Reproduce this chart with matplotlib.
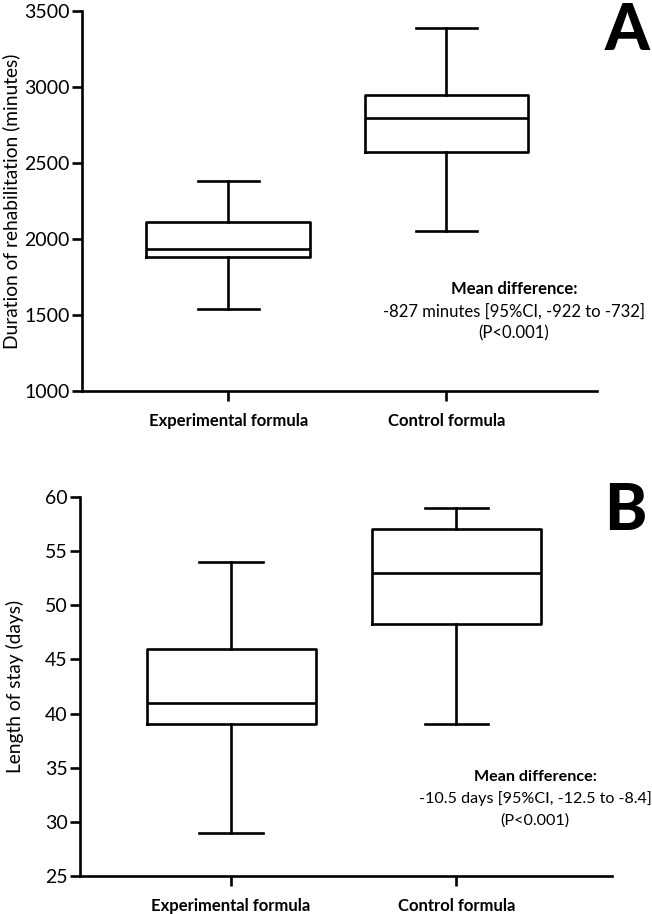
import matplotlib
matplotlib.use("Agg")
import matplotlib.pyplot as plt

plt.rcParams['font.family'] = ['Lato', 'DejaVu Sans']

categories = ["Experimental formula", "Control formula"]

# Panel A: duration of rehabilitation (minutes): whislo, q1, med, q3, whishi
dur_whislo = [1540, 2055]
dur_q1 = [1880, 2575]
dur_med = [1935, 2795]
dur_q3 = [2115, 2950]
dur_whishi = [2380, 3385]
dur_ticks = [1000, 1500, 2000, 2500, 3000, 3500]
dur_note = ["Mean difference:", "-827 minutes [95%CI, -922 to -732]", "(P<0.001)"]

# Panel B: length of stay (days)
los_whislo = [29, 39]
los_q1 = [39, 48.3]
los_med = [41, 53]
los_q3 = [46, 57]
los_whishi = [54, 59]
los_ticks = [25, 30, 35, 40, 45, 50, 55, 60]
los_note = ["Mean difference:", "-10.5 days [95%CI, -12.5 to -8.4]", "(P<0.001)"]

W, H = 652, 914
fig = plt.figure(figsize=(W / 100, H / 100), dpi=100)

def px_axes(left, right, top, bottom):
    return fig.add_axes([left / W, 1 - bottom / H, (right - left) / W, (bottom - top) / H])

lw = 1.9

def draw(ax, wl, q1, med, q3, wh, ticks, ylabel, note, note_xy, note_fs, letter, letter_xy):
    stats = []
    for i in range(len(categories)):
        stats.append(dict(whislo=wl[i], q1=q1[i], med=med[i], q3=q3[i], whishi=wh[i], fliers=[]))
    ax.bxp(stats, positions=[0, 1], widths=0.75, showfliers=False, patch_artist=False,
           boxprops=dict(color='black', linewidth=lw),
           medianprops=dict(color='black', linewidth=lw),
           whiskerprops=dict(color='black', linewidth=lw),
           capprops=dict(color='black', linewidth=lw),
           capwidths=0.28)
    ax.set_xlim(-0.67, 1.69)
    ax.set_ylim(ticks[0], ticks[-1])
    ax.set_yticks(ticks, labels=[str(t) for t in ticks], fontsize=14)
    ax.set_xticks([0, 1], labels=categories, fontweight='bold', fontsize=12)
    for s in ['top', 'right']:
        ax.spines[s].set_visible(False)
    for s in ['left', 'bottom']:
        ax.spines[s].set_linewidth(lw)
    ax.tick_params(axis='both', width=lw, length=7, direction='out')
    ax.tick_params(axis='x', pad=9)
    ax.tick_params(axis='y', pad=2)
    ax.set_ylabel(ylabel, fontsize=13.8)
    for k, (txt, wt) in enumerate(zip(note, ['bold', 'normal', 'normal'])):
        fig.text(note_xy[0], note_xy[1] - k * 22 / H, txt, ha='center', va='center',
                 fontsize=note_fs, fontweight=wt)
    fig.text(letter_xy[0], letter_xy[1], letter, fontsize=46, fontweight='black', ha='center', va='center')

axA = px_axes(82, 597, 11, 391)
draw(axA, dur_whislo, dur_q1, dur_med, dur_q3, dur_whishi, dur_ticks,
     "Duration of rehabilitation (minutes)", dur_note, (514 / W, 1 - 289 / H), 12,
     "A", (627 / W, 1 - 31 / H))
axA.yaxis.set_label_coords(-62 / 515, 0.5)

axB = px_axes(80, 612, 497, 876)
draw(axB, los_whislo, los_q1, los_med, los_q3, los_whishi, los_ticks,
     "Length of stay (days)", los_note, (535 / W, 1 - 777 / H), 11.6,
     "B", (625 / W, 1 - 512 / H))
axB.yaxis.set_label_coords(-56 / 532, 0.5)

fig.savefig("out.png", dpi=100)
